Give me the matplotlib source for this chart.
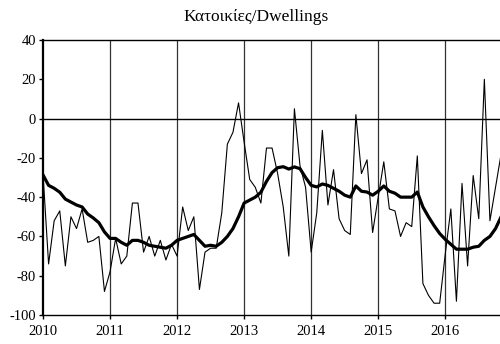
import numpy as np
import matplotlib
matplotlib.use("Agg")
import matplotlib.pyplot as plt

plt.rcParams['font.family'] = ['Liberation Serif', 'DejaVu Serif']
plt.rcParams['axes.unicode_minus'] = False

# monthly balance, Jan 2010 - Nov 2016
monthly = [
    -28, -74, -52, -47, -75, -50, -56, -46, -63, -62, -60, -88,   # 2010
    -78, -61, -74, -70, -43, -43, -68, -60, -70, -62, -72, -64,   # 2011
    -70, -45, -57, -50, -87, -68, -66, -66, -48, -13, -7, 8,      # 2012
    -12, -31, -35, -43, -15, -15, -28, -45, -70, 5, -24, -35,     # 2013
    -68, -48, -6, -44, -26, -51, -57, -59, 2, -28, -21, -58,      # 2014
    -40, -22, -46, -47, -60, -53, -55, -19, -84, -90, -94, -94,   # 2015
    -69, -46, -93, -33, -75, -29, -51, 20, -52, -35, -18,         # 2016
]

# moving average
smoothed = [
    -28.7, -34, -35.5, -37.5, -41, -42.5, -44, -45, -48.6, -50.6, -53, -57.7,
    -61, -61, -63, -64.5, -62, -62, -63, -64.5, -65, -65.5, -66, -64.5,
    -62, -61, -60, -59, -62, -65, -64.5, -65, -63, -60, -56, -50,
    -43, -41.5, -40, -37.5, -32, -27.5, -25, -24.5, -25.7, -24.6, -25.5, -30,
    -34, -34.8, -33.3, -34, -35.5, -37, -39, -40, -34.3, -37, -37.4, -39,
    -37, -34.3, -37, -38, -40, -40, -40, -37.4, -45, -50, -54.5, -58.5,
    -61.5, -64, -66.5, -66.5, -66.5, -65.5, -65, -62, -60, -56, -50,
]

years = list(range(2010, 2017))
yticks = list(range(-100, 41, 20))

t = 2010 + np.arange(len(monthly)) / 12.0

fig = plt.figure(figsize=(5.0, 3.44), dpi=100)
ax = fig.add_axes([0.086, 0.0843, 0.914, 0.7994])

for yr in years[1:]:
    ax.axvline(yr, color='#333333', lw=0.9, zorder=1)
ax.axhline(0, color='black', lw=1.0, zorder=1)

ax.plot(t, monthly, color='black', lw=0.8, zorder=3)
ax.plot(t, smoothed, color='black', lw=2.3, zorder=4)

ax.set_xlim(2010, 2010 + 81.8 / 12)
ax.set_ylim(-100, 40)
ax.set_yticks(yticks)
ax.set_xticks(years)
ax.set_xticklabels([str(y) for y in years])
ax.tick_params(axis='both', labelsize=10.5, direction='out', length=3, width=1, colors='black')
ax.tick_params(axis='x', pad=4)
ax.tick_params(axis='y', pad=2)

ax.spines['left'].set_linewidth(1.6)
ax.spines['bottom'].set_linewidth(1.0)
ax.spines['top'].set_linewidth(1.0)
ax.spines['right'].set_visible(False)

fig.text(0.512, 0.95, 'Κατοικίες/Dwellings', ha='center', va='center', fontsize=12.5)

fig.savefig('out.png', dpi=100)
